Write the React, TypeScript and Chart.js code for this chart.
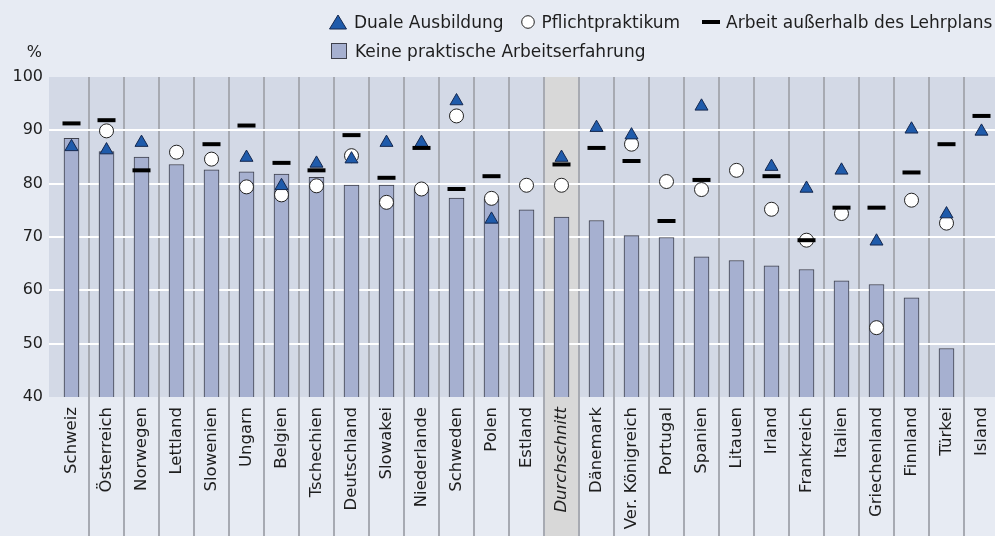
import React, { useEffect, useRef } from 'react';
import { Chart, registerables } from 'chart.js';

Chart.register(...registerables);

const categories = [
  'Schweiz', 'Österreich', 'Norwegen', 'Lettland', 'Slowenien', 'Ungarn', 'Belgien',
  'Tschechien', 'Deutschland', 'Slowakei', 'Niederlande', 'Schweden', 'Polen', 'Estland',
  'Durchschnitt', 'Dänemark', 'Ver. Königreich', 'Portugal', 'Spanien', 'Litauen', 'Irland',
  'Frankreich', 'Italien', 'Griechenland', 'Finnland', 'Türkei', 'Island',
];
const averageCategory = 'Durchschnitt';

const keinePraxis = [
  88.5, 86.0, 85.0, 83.6, 82.6, 82.2, 81.8, 81.2, 79.75, 79.75, 79.0, 77.3, 77.2, 75.1,
  73.75, 73.1, 70.25, 69.9, 66.3, 65.6, 64.6, 63.9, 61.8, 61.1, 58.6, 49.1, null,
];
const dualeAusbildung = [
  86.9, 86.3, 87.7, null, null, 84.9, 79.6, 83.8, 84.6, 87.7, 87.7, 95.5, 73.3, null,
  84.9, 90.5, 89.1, null, 94.5, null, 83.2, 79.1, 82.5, 69.2, 90.2, 74.3, 89.8,
];
const pflichtpraktikum = [
  null, 89.9, null, 85.9, 84.6, 79.4, 77.9, 79.6, 85.25, 76.5, 79.0, 92.7, 77.25, 79.7,
  79.7, null, 87.4, 80.4, 78.9, 82.5, 75.2, 69.4, 74.4, 53.0, 76.9, 72.6, null,
];
const arbeitAusserhalb = [
  91.3, 91.9, 82.5, null, 87.4, 90.9, 83.9, 82.5, 89.1, 81.1, 86.7, 79.0, 81.4, null,
  83.6, 86.7, 84.25, 73.0, 80.7, null, 81.4, 69.4, 75.5, 75.5, 82.1, 87.4, 92.7,
];
const yTicks = [40, 50, 60, 70, 80, 90, 100];
const unitLabel = '%';
const legendDuale = 'Duale Ausbildung';
const legendPflicht = 'Pflichtpraktikum';
const legendArbeit = 'Arbeit außerhalb des Lehrplans';
const legendKeine = 'Keine praktische Arbeitserfahrung';

const FONT = "'DejaVu Sans', sans-serif";
const PAGE_BG = '#e7ebf3';
const PLOT_BG = '#d3d9e6';
const AVG_BG = '#d8d8d8';
const SEP = '#a7aab2';
const BAR_FILL = '#a6b0d0';
const BAR_BORDER = '#3e404c';
const TRI_FILL = '#1f5bab';
const TRI_BORDER = '#15284f';
const TEXT = '#1e1e1e';

const backgroundPlugin = {
  id: 'plotBackground',
  beforeDraw(chart: any) {
    const { ctx, chartArea, scales } = chart;
    const x = scales.x;
    const y = scales.y;
    ctx.save();
    const left = chartArea.left - y.options.grid.tickLength;
    ctx.fillStyle = PLOT_BG;
    ctx.fillRect(left, chartArea.top, chart.width - left, chartArea.bottom - chartArea.top);
    const idx = categories.indexOf(averageCategory);
    const band = (chartArea.right - chartArea.left) / categories.length;
    const cx = x.getPixelForValue(idx);
    ctx.fillStyle = AVG_BG;
    ctx.fillRect(cx - band / 2, chartArea.top, band, chart.height - chartArea.top);
    ctx.restore();
  },
};

export default function App() {
  const ref = useRef<HTMLCanvasElement | null>(null);

  useEffect(() => {
    if (!ref.current) return;
    const avgIdx = categories.indexOf(averageCategory);
    const chart = new Chart(ref.current, {
      type: 'bar',
      data: {
        labels: categories,
        datasets: [
          {
            type: 'line',
            label: legendArbeit,
            data: arbeitAusserhalb,
            showLine: false,
            pointStyle: 'line',
            pointRadius: 9,
            pointBorderWidth: 4,
            borderColor: '#000',
            backgroundColor: '#000',
            pointBorderColor: '#000',
            order: 0,
          } as any,
          {
            type: 'line',
            label: legendDuale,
            data: dualeAusbildung,
            showLine: false,
            pointStyle: 'triangle',
            pointRadius: 7.5,
            pointBorderWidth: 1,
            pointBackgroundColor: TRI_FILL,
            pointBorderColor: TRI_BORDER,
            order: 1,
          } as any,
          {
            type: 'line',
            label: legendPflicht,
            data: pflichtpraktikum,
            showLine: false,
            pointStyle: 'circle',
            pointRadius: 7,
            pointBorderWidth: 1,
            pointBackgroundColor: '#ffffff',
            pointBorderColor: '#222',
            order: 2,
          } as any,
          {
            type: 'bar',
            label: legendKeine,
            data: keinePraxis,
            backgroundColor: BAR_FILL,
            borderColor: BAR_BORDER,
            borderWidth: 1,
            barThickness: 15,
            order: 3,
          } as any,
        ],
      },
      options: {
        responsive: false,
        animation: false,
        devicePixelRatio: 1,
        layout: { padding: { top: 77, left: 0, right: 0, bottom: 0 }, autoPadding: false } as any,
        plugins: { legend: { display: false }, tooltip: { enabled: false } },
        scales: {
          x: {
            type: 'category',
            offset: true,
            border: { display: false },
            grid: {
              offset: true,
              drawTicks: true,
              tickLength: 139,
              lineWidth: 2,
              color: (c: any) => (c.index === 0 ? 'rgba(0,0,0,0)' : SEP),
              tickColor: (c: any) => (c.index === 0 ? 'rgba(0,0,0,0)' : SEP),
            },
            ticks: {
              autoSkip: false,
              minRotation: 90,
              maxRotation: 90,
              padding: -129,
              color: TEXT,
              font: (c: any) => ({
                family: FONT,
                size: 16.5,
                style: c.index === avgIdx ? 'italic' : 'normal',
              }),
            },
            afterFit: (s: any) => {
              s.height = 139;
            },
          } as any,
          y: {
            min: yTicks[0],
            max: yTicks[yTicks.length - 1],
            border: { display: false },
            grid: {
              drawTicks: true,
              tickLength: 5,
              lineWidth: 2,
              color: (c: any) =>
                c.tick && (c.tick.value === yTicks[0] || c.tick.value === yTicks[yTicks.length - 1])
                  ? 'rgba(0,0,0,0)'
                  : '#ffffff',
              tickColor: (c: any) =>
                c.tick && (c.tick.value === yTicks[0] || c.tick.value === yTicks[yTicks.length - 1])
                  ? 'rgba(0,0,0,0)'
                  : '#ffffff',
            },
            ticks: {
              stepSize: yTicks[1] - yTicks[0],
              padding: 6,
              color: TEXT,
              font: { family: FONT, size: 16 },
            },
            afterFit: (s: any) => {
              s.width = 54;
            },
          } as any,
        },
      },
      plugins: [backgroundPlugin],
    });
    return () => chart.destroy();
  }, []);

  const textStyle: React.CSSProperties = {
    fontFamily: FONT,
    fontSize: 17,
    color: TEXT,
    whiteSpace: 'nowrap',
    lineHeight: '20px',
  };

  return (
    <div
      style={{
        position: 'fixed',
        left: 0,
        top: 0,
        width: 995,
        height: 536,
        overflow: 'hidden',
        background: PAGE_BG,
      }}
    >
      <canvas
        ref={ref}
        width={999}
        height={536}
        style={{ position: 'absolute', left: 0, top: 0, width: 999, height: 536 }}
      />
      <div style={{ ...textStyle, position: 'absolute', right: 995 - 42, top: 42, fontSize: 16 }}>
        {unitLabel}
      </div>
      <div style={{ position: 'absolute', left: 329, top: 12, display: 'flex', alignItems: 'center' }}>
        <svg width={18} height={16} style={{ marginRight: 7 }}>
          <polygon points="9,1 17.5,15 0.5,15" fill={TRI_FILL} stroke={TRI_BORDER} strokeWidth={1} />
        </svg>
        <span style={textStyle}>{legendDuale}</span>
        <svg width={14} height={14} style={{ marginLeft: 17, marginRight: 7 }}>
          <circle cx={7} cy={7} r={6.3} fill="#fff" stroke="#222" strokeWidth={1} />
        </svg>
        <span style={textStyle}>{legendPflicht}</span>
        <svg width={18} height={6} style={{ marginLeft: 22, marginRight: 6 }}>
          <rect x={0} y={1} width={18} height={4} fill="#000" />
        </svg>
        <span style={textStyle}>{legendArbeit}</span>
      </div>
      <div style={{ position: 'absolute', left: 331, top: 41, display: 'flex', alignItems: 'center' }}>
        <svg width={16} height={16} style={{ marginRight: 8 }}>
          <rect x={0.5} y={0.5} width={15} height={15} fill={BAR_FILL} stroke={BAR_BORDER} strokeWidth={1} />
        </svg>
        <span style={textStyle}>{legendKeine}</span>
      </div>
    </div>
  );
}
